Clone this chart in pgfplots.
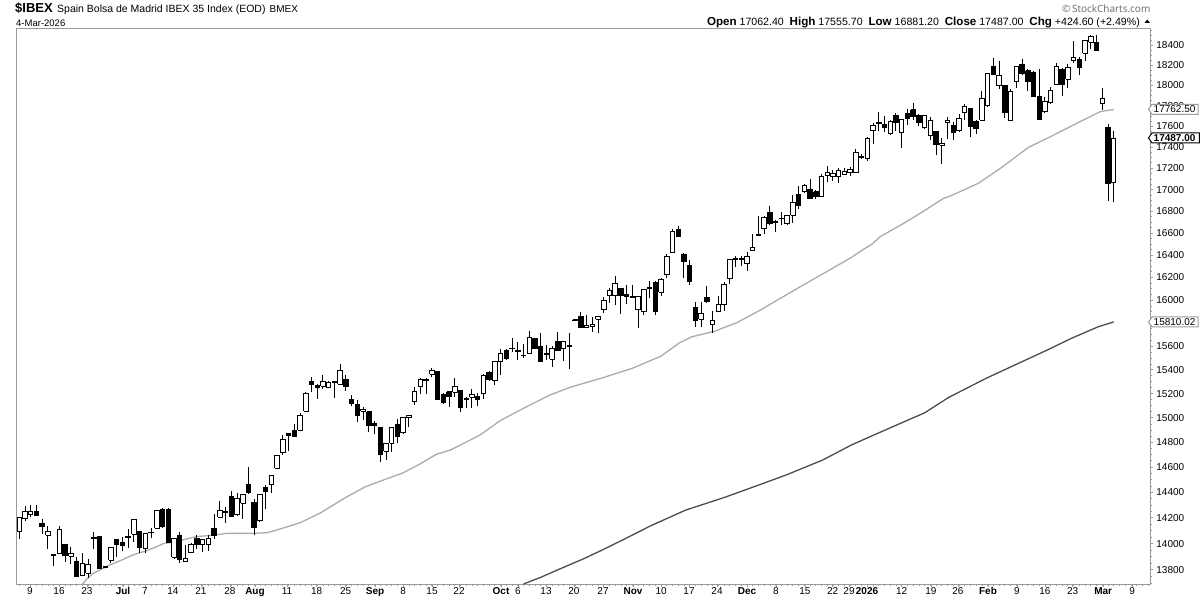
\documentclass[border=0pt]{standalone}
\usepackage{pgfplots}
\usepackage{pgfplotstable}
\usepackage{fontspec}
\setmainfont{Liberation Sans}
\newfontfamily\logofont{Open Sans}
\pgfplotsset{compat=1.18}
\pgfplotstableread{
n o h l c
1 14095 14203 14038 14203
2 14192 14292 14177 14250
3 14224 14297 14208 14247
4 14250 14297 14213 14216
5 14156 14190 14074 14131
6 14064 14136 13962 14095
7 13921 13921 13832 13910
8 13926 14136 13921 14110
9 13995 13997 13862 13910
10 13903 13974 13847 13926
11 13865 13900 13744 13749
12 13759 13926 13754 13850
13 13774 13883 13736 13842
14 14040 14087 13962 14046
15 14056 14056 13812 13812
16 13822 13822 13817 13817
17 13872 13972 13855 13972
18 14033 14033 13895 13995
19 14010 14054 13941 13987
20 14049 14113 13967 14053
21 14072 14187 14013 14187
22 14095 14095 13931 13967
23 13964 14079 13926 14079
24 14086 14120 14043 14082
25 14118 14258 14118 14258
26 14268 14276 14120 14136
27 14266 14276 14008 14008
28 13895 14038 13885 14038
29 14064 14089 13855 13880
30 13865 13990 13865 13888
31 13931 14003 13931 13992
32 14041 14069 13962 13992
33 13995 14033 13939 14033
34 13995 14066 13946 14041
35 14118 14229 14038 14064
36 14203 14331 14195 14255
37 14250 14281 14161 14242
38 14368 14413 14203 14213
39 14224 14397 14213 14350
40 14313 14386 14190 14386
41 14463 14598 14386 14397
42 14323 14344 14064 14123
43 14177 14384 14167 14384
44 14439 14455 14271 14405
45 14463 14534 14397 14534
46 14590 14695 14590 14695
47 14716 14859 14700 14824
48 14873 14878 14732 14853
49 14897 14949 14840 14851
50 14897 15040 14895 15019
51 15053 15214 15053 15203
52 15306 15337 15214 15275
53 15270 15281 15158 15250
54 15264 15359 15242 15300
55 15253 15308 15244 15295
56 15300 15300 15167 15295
57 15278 15449 15275 15396
58 15319 15356 15225 15258
59 15153 15186 15098 15120
60 15111 15147 14968 15018
61 15053 15092 14982 15070
62 15048 15048 14886 14936
63 14955 14974 14867 14936
64 14922 14922 14645 14703
65 14727 14791 14657 14791
66 14791 14922 14724 14922
67 14946 14987 14791 14845
68 14878 15004 14867 15004
69 15001 15019 14927 15019
70 15133 15253 15106 15217
71 15258 15328 15197 15319
72 15319 15328 15197 15311
73 15362 15413 15337 15393
74 15387 15393 15147 15156
75 15194 15203 15114 15125
76 15217 15225 15086 15175
77 15211 15328 15175 15258
78 15225 15231 15051 15084
79 15161 15169 15078 15153
80 15169 15236 15078 15194
81 15181 15203 15098 15153
82 15203 15365 15153 15354
83 15379 15393 15308 15317
84 15308 15477 15272 15472
85 15472 15574 15356 15540
86 15568 15574 15483 15495
87 15580 15668 15554 15584
88 15565 15639 15483 15554
89 15518 15616 15503 15522
90 15537 15728 15537 15676
91 15670 15670 15574 15579
92 15602 15711 15469 15469
93 15537 15608 15483 15528
94 15489 15602 15427 15582
95 15642 15722 15562 15562
96 15582 15642 15477 15642
97 15600 15711 15409 15604
98 15828 15828 15824 15824
99 15861 15896 15760 15760
100 15760 15867 15760 15780
101 15768 15855 15725 15788
102 15832 15858 15716 15858
103 15919 16024 15884 15997
104 16038 16104 15977 16086
105 16038 16213 15959 16147
106 16103 16109 15881 16038
107 16050 16133 15965 16035
108 16032 16133 16021 16028
109 15919 16033 15760 16033
110 15901 16094 15872 16094
111 16112 16171 16021 16103
112 16159 16171 15872 15898
113 16068 16192 16038 16183
114 16227 16409 16198 16391
115 16421 16639 16421 16614
116 16632 16663 16566 16566
117 16409 16421 16198 16340
118 16307 16361 16136 16162
119 15936 15983 15768 15820
120 15832 15988 15768 15884
121 16024 16124 15977 15986
122 15785 15904 15716 15823
123 15901 16035 15901 15962
124 15959 16159 15907 16139
125 16189 16361 16144 16361
126 16367 16391 16295 16361
127 16367 16391 16301 16361
128 16322 16424 16260 16385
129 16439 16590 16439 16469
130 16578 16755 16578 16584
131 16639 16755 16590 16742
132 16789 16847 16675 16684
133 16706 16718 16608 16694
134 16731 16792 16675 16735
135 16684 16767 16675 16761
136 16761 16946 16694 16880
137 16955 17030 16822 16850
138 16983 17058 16970 17039
139 17002 17095 16908 16914
140 16977 16995 16908 16933
141 16933 17145 16927 17123
142 17133 17221 17071 17161
143 17120 17183 17080 17152
144 17120 17202 17064 17180
145 17139 17202 17139 17167
146 17161 17208 17127 17193
147 17158 17378 17152 17349
148 17311 17333 17290 17299
149 17290 17500 17271 17487
150 17561 17635 17430 17610
151 17633 17743 17551 17637
152 17622 17700 17545 17584
153 17529 17661 17519 17651
154 17706 17726 17551 17642
155 17539 17674 17392 17667
156 17720 17772 17616 17674
157 17759 17824 17661 17694
158 17710 17720 17603 17635
159 17590 17706 17577 17706
160 17513 17687 17468 17658
161 17551 17558 17324 17424
162 17417 17487 17240 17436
163 17638 17687 17481 17658
164 17613 17638 17468 17539
165 17558 17720 17548 17677
166 17733 17817 17661 17795
167 17775 17775 17500 17597
168 17648 17661 17526 17577
169 17661 17945 17648 17872
170 17797 18113 17791 18113
171 18189 18275 18103 18109
172 17997 18245 17967 18099
173 18000 18000 17683 17732
174 17654 17961 17648 17941
175 18040 18189 17977 18189
176 18209 18259 18103 18116
177 18146 18159 17948 18037
178 18129 18146 17882 17889
179 17892 18159 17664 17664
180 17742 17889 17732 17843
181 17830 17987 17817 17951
182 18010 18219 18004 18189
183 18159 18169 17895 18010
184 18060 18212 17971 18179
185 18245 18444 18219 18279
186 18259 18279 18103 18176
187 18320 18451 18245 18451
188 18430 18505 18360 18495
189 18430 18505 18346 18346
190 17823 17971 17758 17872
191 17590 17622 16896 17058
192 17062.4 17555.7 16881.2 17487
}\candles
\pgfplotstableread{
n y
12.06 13694
12.87 13736
13.9 13774
15.08 13800
16.8 13837
18.6 13870
20.9 13915
23.2 13946
25 13977
26.1 14000
27.9 14013
30.2 14036
31.9 14054
34.9 14066
37.2 14079
41.3 14079
44.2 14084
45.9 14105
50 14161
53.5 14237
57.8 14355
61.3 14442
64.8 14502
68 14555
70.9 14625
73.8 14704
76.2 14737
81.4 14859
84.9 14976
89 15079
93.6 15189
97.1 15253
103 15337
108 15413
113 15517
116.2 15630
118.4 15682
122.3 15729
126.2 15803
130.1 15907
137.2 16115
146 16373
148.3 16451
149.8 16499
151.2 16565
155.3 16688
158.2 16780
162.3 16919
163.1 16934
164.8 16972
168.4 17060
172.2 17199
177.1 17398
180.9 17500
186.1 17644
189.6 17742
191 17756
192 17762.5
}\smafifty
\pgfplotstableread{
n y
89 13694
92 13744
95.6 13812
99.5 13885
102.7 13951
106.3 14028
111.2 14138
117.3 14260
124.1 14360
130.5 14465
134.8 14537
141.2 14657
146.2 14778
150.5 14867
155.4 14968
159 15042
163.2 15170
169.7 15328
176 15469
180.4 15568
184.6 15668
189.3 15768
192 15810.02
}\smatwohundred
\def\wickpath{}\def\blackpath{}\def\whitepath{}
\pgfplotsforeachungrouped \i in {0,...,191}{%
  \pgfplotstablegetelem{\i}{n}\of\candles\let\cN\pgfplotsretval
  \pgfplotstablegetelem{\i}{o}\of\candles\let\cO\pgfplotsretval
  \pgfplotstablegetelem{\i}{h}\of\candles\let\cH\pgfplotsretval
  \pgfplotstablegetelem{\i}{l}\of\candles\let\cL\pgfplotsretval
  \pgfplotstablegetelem{\i}{c}\of\candles\let\cC\pgfplotsretval
  \pgfmathsetmacro\xA{\cN-0.39}%
  \pgfmathsetmacro\xB{\cN+0.39}%
  \edef\wickpath{\wickpath (\cN,\cL e-4)(\cN,\cH e-4)(\cN,nan)}%
  \edef\bodypath{(\xA,\cO e-4)(\xB,\cO e-4)(\xB,\cC e-4)(\xA,\cC e-4)(\xA,\cO e-4)(\cN,nan)}%
  \pgfmathfloatparsenumber{\cO}\let\fO\pgfmathresult
  \pgfmathfloatparsenumber{\cC}\let\fC\pgfmathresult
  \pgfmathfloatlessthan{\fC}{\fO}%
  \ifpgfmathfloatcomparison
    \edef\blackpath{\blackpath\bodypath}%
  \else
    \edef\whitepath{\whitepath\bodypath}%
  \fi
}
\definecolor{frame}{HTML}{9A9A9A}
\newcommand{\pricebox}[4]{% y, text, border colour, right edge
  \draw[#3,fill=white,line width=1pt] (1148.5pt,#1) -- (1152pt,#1+5pt) -- (#4,#1+5pt) -- (#4,#1-5pt) -- (1152pt,#1-5pt) -- cycle;
  \node[anchor=west,inner sep=0pt,black] at (1153.5pt,#1) {#2};}
\begin{document}
\fontsize{10pt}{12pt}\selectfont
\begin{tikzpicture}[x=1pt,y=1pt]
\path[use as bounding box] (0,0) rectangle (1200,600);
\begin{axis}[
  at={(16.7pt,15.5pt)},anchor=south west,
  scale only axis,width=1134pt,height=556pt,
  ymode=log,log basis y=10,
  xmin=0.546,xmax=198.45,ymin=1.3690,ymax=1.8570,
  axis line style={frame,line width=1.2pt},
  tick style={frame,line width=0.8pt},
  major tick length=2.5pt,minor tick length=1.5pt,
  ytick pos=right,yticklabel pos=right,xtick pos=bottom,
  tick align=outside,
  unbounded coords=jump,
  ytick={1.38,1.40,1.42,1.44,1.46,1.48,1.50,1.52,1.54,1.56,1.58,1.60,1.62,1.64,1.66,1.68,1.70,1.72,1.74,1.76,1.78,1.80,1.82,1.84},
  yticklabels={13800,14000,14200,14400,14600,14800,15000,15200,15400,15600,{},16000,16200,16400,16600,16800,17000,17200,17400,17600,17800,18000,18200,18400},
  minor ytick={1.37,1.375,1.385,1.39,1.395,1.405,1.41,1.415,1.425,1.43,1.435,1.445,1.45,1.455,1.465,1.47,1.475,1.485,1.49,1.495,1.505,1.51,1.515,1.525,1.53,1.535,1.545,1.55,1.555,1.565,1.57,1.575,1.585,1.59,1.595,1.605,1.61,1.615,1.625,1.63,1.635,1.645,1.65,1.655,1.665,1.67,1.675,1.685,1.69,1.695,1.705,1.71,1.715,1.725,1.73,1.735,1.745,1.75,1.755,1.765,1.77,1.775,1.785,1.79,1.795,1.805,1.81,1.815,1.825,1.83,1.835,1.845,1.85,1.855},
  xtick={2.87,7.93,12.81,19.1,22.94,27.82,32.71,37.77,42.13,47.72,52.9,57.96,63.08,67.97,73.03,77.74,85.07,88.03,92.92,97.8,102.87,108.1,113,117.88,122.77,127.99,133.05,138.11,142.95,145.8,148.94,155,160.1,164.82,170.06,175.11,180,184.84,190.16,195.22},
  xticklabels={9,16,23,\textbf{Jul},7,14,21,28,\textbf{Aug},11,18,25,\textbf{Sep},8,15,22,\textbf{Oct},6,13,20,27,\textbf{Nov},10,17,24,\textbf{Dec},8,15,22,29,\textbf{2026},12,19,26,\textbf{Feb},9,16,23,\textbf{Mar},9},
  minor xtick={1,2,...,198},
  ticklabel style={font=\fontsize{10pt}{12pt}\selectfont,black},
  yticklabel style={anchor=west,inner sep=0pt,xshift=3pt},
  xticklabel style={anchor=north,inner sep=0pt,yshift=-0.5pt,text height=7.2pt},
]
\addplot[no marks,color=black!33,line width=1.3pt] table[x=n,y expr=\thisrow{y}/10000] {\smafifty};
\addplot[no marks,color=black!70,line width=1.3pt] table[x=n,y expr=\thisrow{y}/10000] {\smatwohundred};
\edef\drawall{%
 \noexpand\addplot[no marks,black,line width=1pt] coordinates {\wickpath};%
 \noexpand\addplot[no marks,draw=black,fill=black,line width=1pt,miter limit=2] coordinates {\blackpath};%
 \noexpand\addplot[no marks,draw=black,fill=white,line width=1pt] coordinates {\whitepath};%
}
\drawall
\end{axis}
\node[anchor=base west,inner sep=0pt] at (15,587) {\fontsize{13pt}{14pt}\selectfont\textbf{\$IBEX}};
\node[anchor=base west,inner sep=0pt] at (57,587) {\fontsize{10.5pt}{12pt}\selectfont Spain Bolsa de Madrid IBEX 35 Index (EOD)};
\node[anchor=base west,inner sep=0pt] at (269.5,587) {\fontsize{10pt}{12pt}\selectfont BMEX};
\node[anchor=base west,inner sep=0pt] at (16,573.5) {\fontsize{9.5pt}{12pt}\selectfont 4-Mar-2026};
\node[anchor=base east,inner sep=0pt] at (1140,574) {\fontsize{10.6pt}{12pt}\selectfont\textbf{\fontsize{11.6pt}{12pt}\selectfont Open} 17062.40\ \ \textbf{\fontsize{11.6pt}{12pt}\selectfont High} 17555.70\ \ \textbf{\fontsize{11.6pt}{12pt}\selectfont Low} 16881.20\ \ \textbf{\fontsize{11.6pt}{12pt}\selectfont Close} 17487.00\ \ \textbf{\fontsize{11.6pt}{12pt}\selectfont Chg} +424.60 (+2.49\%)};
\fill[black] (1144.5,577) -- (1150,577) -- (1147.25,580.5) -- cycle;
\node[anchor=base east,inner sep=0pt,text=black!60] at (1150.5,587) {\logofont\fontsize{10pt}{12pt}\selectfont \copyright\,StockCharts.com};
\pricebox{490.7pt}{17762.50}{frame}{1198pt}
\pricebox{278pt}{15810.02}{frame}{1198pt}
\pricebox{462pt}{\textbf{17487.00}}{black}{1199.4pt}
\end{tikzpicture}
\end{document}
